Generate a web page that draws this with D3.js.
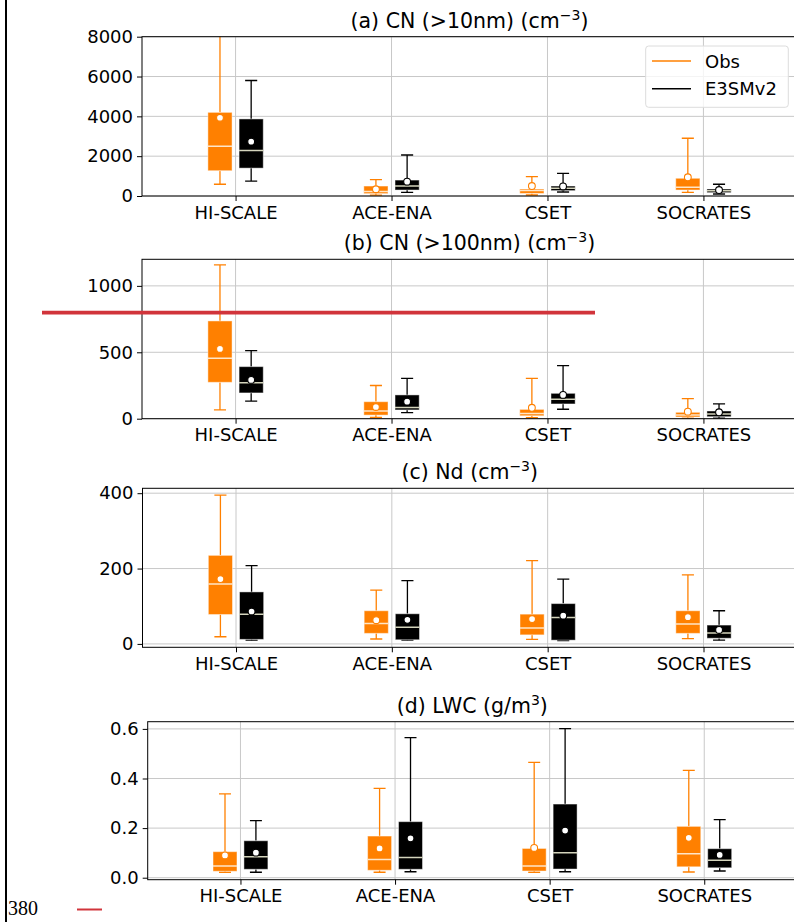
<!DOCTYPE html>
<html>
<head>
<meta charset="utf-8">
<script src="https://cdn.jsdelivr.net/npm/d3@7"></script>
<style>
  body { margin: 0; background: #fff; }
  svg { display: block; }
  text { font-family: "DejaVu Sans", sans-serif; fill: #000; }
</style>
</head>
<body>
<svg id="chart" width="794" height="922"></svg>
<script>
// Field campaigns and the two data sources compared in each one
const campaigns = ["HI-SCALE", "ACE-ENA", "CSET", "SOCRATES"];
const seriesNames = ["Obs", "E3SMv2"];

// Box statistics per campaign: [whisker low, Q1, median, Q3, whisker high]
const cn10ObsStats = [[590, 1270, 2500, 4200, 9500], [40, 120, 230, 500, 820], [50, 130, 270, 350, 970], [180, 300, 440, 890, 2900]];
const cn10ObsMean  = [3930, 340, 500, 940];
const cn10ModStats = [[750, 1400, 2280, 3870, 5800], [180, 300, 500, 800, 2060], [200, 270, 390, 500, 1140], [100, 170, 260, 350, 590]];
const cn10ModMean  = [2730, 720, 480, 300];

const cn100ObsStats = [[66, 274, 455, 736, 1158], [10, 27, 58, 128, 250], [8, 22, 40, 70, 304], [5, 13, 28, 48, 151]];
const cn100ObsMean  = [525, 88, 82, 53];
const cn100ModStats = [[133, 194, 271, 392, 513], [45, 66, 85, 179, 304], [71, 111, 146, 191, 400], [5, 15, 35, 58, 111]];
const cn100ModMean  = [292, 128, 179, 48];

const ndObsStats = [[19, 78, 159, 235, 395], [13, 28, 54, 88, 143], [12, 24, 42, 79, 221], [14, 28, 53, 88, 183]];
const ndObsMean  = [172, 63, 66, 71];
const ndModStats = [[10, 12, 79, 138, 208], [10, 11, 44, 80, 168], [9, 10, 70, 107, 172], [10, 15, 29, 50, 88]];
const ndModMean  = [86, 64, 75, 37];

const lwcObsStats = [[0.022, 0.026, 0.047, 0.105, 0.338], [0.022, 0.030, 0.073, 0.168, 0.360], [0.022, 0.027, 0.047, 0.118, 0.465], [0.023, 0.044, 0.097, 0.207, 0.433]];
const lwcObsMean  = [0.090, 0.118, 0.120, 0.161];
const lwcModStats = [[0.022, 0.034, 0.085, 0.149, 0.230], [0.024, 0.034, 0.082, 0.226, 0.565], [0.024, 0.035, 0.101, 0.297, 0.601], [0.027, 0.040, 0.070, 0.117, 0.234]];
const lwcModMean  = [0.101, 0.159, 0.190, 0.092];

// Y tick values for each panel
const cn10Ticks  = [0, 2000, 4000, 6000, 8000];
const cn100Ticks = [0, 500, 1000];
const ndTicks    = [0, 200, 400];
const lwcTicks   = [0.0, 0.2, 0.4, 0.6];

const colors = { Obs: "#ff8000", E3SMv2: "#000000" };
const boxOffset = 0.1, boxWidth = 0.155;

const panels = [
  { title: ["(a) CN (>10nm) (cm", "−3", ")"], obs: cn10ObsStats, obsMean: cn10ObsMean, mod: cn10ModStats, modMean: cn10ModMean,
    domain: [0, 8000], ticks: cn10Ticks, fmt: d3.format("d"), top: 36.7, bottom: 196, left: 142, right: 797, legend: true },
  { title: ["(b) CN (>100nm) (cm", "−3", ")"], obs: cn100ObsStats, obsMean: cn100ObsMean, mod: cn100ModStats, modMean: cn100ModMean,
    domain: [0, 1200], ticks: cn100Ticks, fmt: d3.format("d"), top: 259.3, bottom: 418.7, left: 142, right: 797 },
  { title: ["(c) Nd (cm", "−3", ")"], obs: ndObsStats, obsMean: ndObsMean, mod: ndModStats, modMean: ndModMean,
    domain: [-9, 413], ticks: ndTicks, fmt: d3.format("d"), top: 488.3, bottom: 647.3, left: 142.5, right: 797 },
  { title: ["(d) LWC (g/m", "3", ")"], obs: lwcObsStats, obsMean: lwcObsMean, mod: lwcModStats, modMean: lwcModMean,
    domain: [-0.008, 0.629], ticks: lwcTicks, fmt: d3.format(".1f"), top: 721.7, bottom: 879.7, left: 147.7, right: 797 }
];

const svg = d3.select("#chart");

panels.forEach((p, pi) => {
  const x = d3.scaleLinear().domain([0.4, 4.6]).range([p.left, p.right]);
  const y = d3.scaleLinear().domain(p.domain).range([p.bottom, p.top]);
  const g = svg.append("g");

  const clipId = "clip" + pi;
  svg.append("clipPath").attr("id", clipId)
    .append("rect").attr("x", p.left).attr("y", p.top)
    .attr("width", p.right - p.left).attr("height", p.bottom - p.top);

  // grid
  const grid = g.append("g").attr("stroke", "#c8c8c8").attr("stroke-width", 1);
  p.ticks.forEach(t => {
    grid.append("line").attr("x1", p.left).attr("x2", p.right).attr("y1", y(t)).attr("y2", y(t));
  });
  campaigns.forEach((c, i) => {
    grid.append("line").attr("x1", x(i + 1)).attr("x2", x(i + 1)).attr("y1", p.top).attr("y2", p.bottom);
  });

  // boxes
  const marks = g.append("g").attr("clip-path", `url(#${clipId})`);
  const series = [
    { name: "Obs", stats: p.obs, means: p.obsMean, dx: -boxOffset },
    { name: "E3SMv2", stats: p.mod, means: p.modMean, dx: boxOffset }
  ];
  series.forEach(s => {
    const col = colors[s.name];
    s.stats.forEach((st, i) => {
      const [lo, q1, med, q3, hi] = st;
      const cx = x(i + 1 + s.dx);
      const hw = x(boxWidth / 2) - x(0);
      const cw = hw / 2;
      const bg = marks.append("g");
      // whiskers
      bg.append("line").attr("x1", cx).attr("x2", cx).attr("y1", y(q3)).attr("y2", y(hi))
        .attr("stroke", col).attr("stroke-width", 1.3);
      bg.append("line").attr("x1", cx).attr("x2", cx).attr("y1", y(q1)).attr("y2", y(lo))
        .attr("stroke", col).attr("stroke-width", 1.3);
      [lo, hi].forEach(v => {
        bg.append("line").attr("x1", cx - cw).attr("x2", cx + cw).attr("y1", y(v)).attr("y2", y(v))
          .attr("stroke", col).attr("stroke-width", 1.3);
      });
      // box
      bg.append("rect").attr("x", cx - hw).attr("y", y(q3)).attr("width", 2 * hw)
        .attr("height", Math.max(1, y(q1) - y(q3)))
        .attr("fill", col).attr("stroke", "#ffffff").attr("stroke-opacity", 0.45).attr("stroke-width", 1);
      // median
      bg.append("line").attr("x1", cx - hw).attr("x2", cx + hw).attr("y1", y(med)).attr("y2", y(med))
        .attr("stroke", s.name === "Obs" ? "#ffe6c8" : "#d4d4bc").attr("stroke-width", 1.5);
      // mean
      bg.append("circle").attr("cx", cx).attr("cy", y(s.means[i])).attr("r", 3.4)
        .attr("fill", "#ffffff").attr("stroke", col).attr("stroke-width", 1.1);
    });
  });

  // frame
  g.append("rect").attr("x", p.left).attr("y", p.top)
    .attr("width", p.right - p.left).attr("height", p.bottom - p.top)
    .attr("fill", "none").attr("stroke", "#000").attr("stroke-width", 1);

  // axes
  const ya = g.append("g").attr("transform", `translate(${p.left},0)`)
    .call(d3.axisLeft(y).tickValues(p.ticks).tickFormat(p.fmt).tickSize(5).tickPadding(4));
  const xa = g.append("g").attr("transform", `translate(0,${p.bottom})`)
    .call(d3.axisBottom(x).tickValues([1, 2, 3, 4]).tickFormat(d => campaigns[d - 1]).tickSize(5).tickPadding(5));
  [ya, xa].forEach(a => {
    a.select(".domain").remove();
    a.selectAll("text").attr("font-size", 18).style("font-family", "'DejaVu Sans', sans-serif").attr("fill", "#000");
    a.selectAll("line").attr("stroke", "#000");
  });

  // title
  const t = g.append("text").attr("x", (p.left + p.right) / 2).attr("y", p.top - 9)
    .attr("text-anchor", "middle").attr("font-size", 20.5);
  t.append("tspan").text(p.title[0]);
  t.append("tspan").attr("dy", -8).attr("font-size", 14).text(p.title[1]);
  t.append("tspan").attr("dy", 8).text(p.title[2]);

  // legend
  if (p.legend) {
    const lg = g.append("g");
    lg.append("rect").attr("x", 645.7).attr("y", 46).attr("width", 142.6).attr("height", 61.3)
      .attr("rx", 3).attr("fill", "#fff").attr("fill-opacity", 0.8)
      .attr("stroke", "#dcdcdc").attr("stroke-width", 1);
    seriesNames.forEach((n, k) => {
      const yy = 61 + k * 27.7;
      lg.append("line").attr("x1", 652).attr("x2", 691).attr("y1", yy).attr("y2", yy)
        .attr("stroke", colors[n]).attr("stroke-width", 1.5);
      lg.append("text").attr("x", 705).attr("y", yy + 6.5).attr("font-size", 18).text(n);
    });
  }
});

// page annotations
svg.append("line").attr("x1", 6).attr("x2", 6).attr("y1", 0).attr("y2", 922)
  .attr("stroke", "#000").attr("stroke-width", 2);
svg.append("line").attr("x1", 42).attr("x2", 595).attr("y1", 312.7).attr("y2", 312.7)
  .attr("stroke", "#d1343b").attr("stroke-width", 3.7);
svg.append("text").attr("x", 8).attr("y", 915).attr("font-size", 20)
  .style("font-family", "'Liberation Serif', 'DejaVu Serif', serif").text("380");
svg.append("line").attr("x1", 77).attr("x2", 102).attr("y1", 909.5).attr("y2", 909.5)
  .attr("stroke", "#d1343b").attr("stroke-width", 2);
</script>
</body>
</html>
